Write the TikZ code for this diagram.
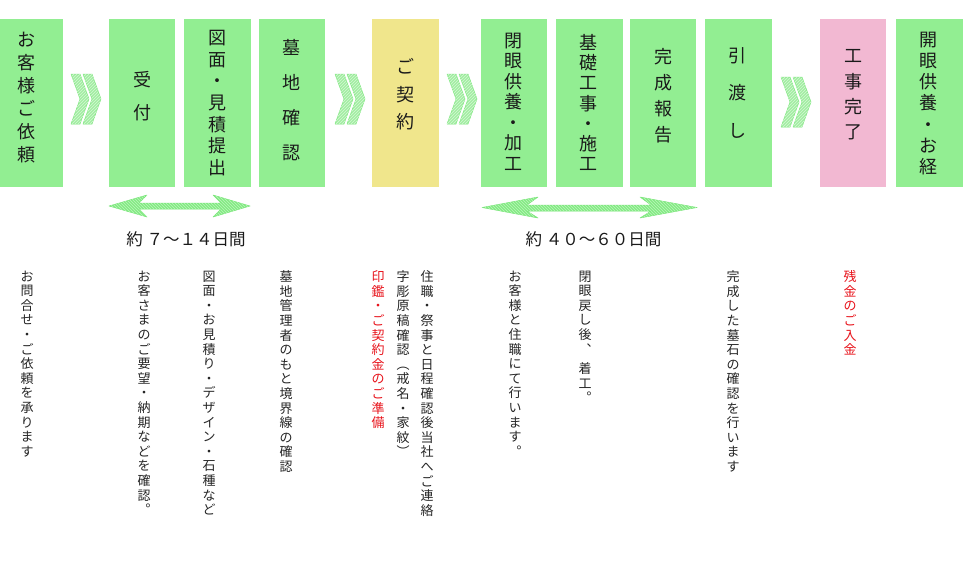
\documentclass[tikz,border=0pt]{standalone}
\usepackage{fontspec}
\setmainfont{Noto Sans CJK JP}
\usetikzlibrary{patterns}
\definecolor{bgreen}{HTML}{92EE92}
\definecolor{byellow}{HTML}{F0E68C}
\definecolor{bpink}{HTML}{F2B8D2}
\definecolor{chevc}{HTML}{A2EEA2}
\definecolor{arrc}{HTML}{84EB84}
\definecolor{edgec}{HTML}{78E678}
\definecolor{txtdark}{HTML}{1A1A1A}
\definecolor{txtgray}{HTML}{262626}
\definecolor{txtred}{HTML}{E8141C}
\tikzset{
  stepbox/.style={draw=none, inner sep=0pt, minimum height=168pt},
  boxtxt/.style={font=\fontsize{18}{#1}\selectfont, align=center, text=txtdark, inner sep=0pt},
  vtxt/.style={font=\fontsize{13}{14.6}\selectfont, align=center, text=txtgray, inner sep=0pt, anchor=north},
  redtxt/.style={text=txtred},
  lbl/.style={font=\fontsize{16.5}{18}\selectfont, text=txtdark, inner sep=0pt},
  chevfill/.style={fill=chevc, draw=edgec!80!chevc, line width=0.5pt, line join=round},
  chevhatch/.style={pattern=north east lines, pattern color=white!55!chevc},
  arrfill/.style={fill=arrc, draw=edgec, line width=0.5pt, line join=round},
  arrhatch/.style={pattern=north west lines, pattern color=white!45!arrc},
  chevpair/.pic={
    \foreach \dx in {0,12}{
      \path[chevfill] (\dx,0) -- (\dx+9,0) -- (\dx+18,25) -- (\dx+9,50) -- (\dx,50) -- (\dx+9,25) -- cycle;
      \path[chevhatch] (\dx,0) -- (\dx+9,0) -- (\dx+18,25) -- (\dx+9,50) -- (\dx,50) -- (\dx+9,25) -- cycle;
    }
  }
}
\begin{document}
\begin{tikzpicture}[x=1pt,y=-1pt]
\useasboundingbox[fill=white] (0,0) rectangle (979,562);

% boxes
\node[stepbox, fill=bgreen, minimum width=63pt] (b1) at (31.5,103) {};
\node[stepbox, fill=bgreen, minimum width=66pt] (b2) at (142,103) {};
\node[stepbox, fill=bgreen, minimum width=67pt] (b3) at (217.5,103) {};
\node[stepbox, fill=bgreen, minimum width=66pt] (b4) at (292,103) {};
\node[stepbox, fill=byellow, minimum width=67pt] (b5) at (405.5,103) {};
\node[stepbox, fill=bgreen, minimum width=66pt] (b6) at (514,103) {};
\node[stepbox, fill=bgreen, minimum width=67pt] (b7) at (589.5,103) {};
\node[stepbox, fill=bgreen, minimum width=66pt] (b8) at (663,103) {};
\node[stepbox, fill=bgreen, minimum width=67pt] (b9) at (738.5,103) {};
\node[stepbox, fill=bpink, minimum width=66pt] (b10) at (853,103) {};
\node[stepbox, fill=bgreen, minimum width=67pt] (b11) at (929.5,103) {};

% box texts
\node[boxtxt=23] (t1) at (26,97.5) {お\\客\\様\\ご\\依\\頼};
\node[boxtxt=33] (t2) at (142,96.5) {受\\付};
\node[boxtxt=21.7] (t3) at (217,103) {図\\面\\・\\見\\積\\提\\出};
\node[boxtxt=35] (t4) at (291,100.5) {墓\\地\\確\\認};
\node[boxtxt=27.5] (t5) at (405,94.5) {ご\\契\\約};
\node[boxtxt=20.5] (t6) at (513.5,101.5) {閉\\眼\\供\\養\\・\\加\\工};
\node[boxtxt=20.2] (t7) at (588.5,102.5) {基\\礎\\工\\事\\・\\施\\工};
\node[boxtxt=26] (t8) at (663,96) {完\\成\\報\\告};
\node[boxtxt=37.5] (t9) at (737.5,92.5) {引\\渡\\し};
\node[boxtxt=25.3] (t10) at (853,95) {工\\事\\完\\了};
\node[boxtxt=21.2] (t11) at (928.5,103.5) {開\\眼\\供\\養\\・\\お\\経};

% chevrons
\pic at (71,74) {chevpair};
\pic at (335,74) {chevpair};
\pic at (447,74) {chevpair};
\pic at (781,77) {chevpair};

% double arrows
\path[arrfill] (109,206) -- (147,195) -- (139,203) -- (221,203) -- (213,195) -- (250,206) -- (213,217) -- (221,209) -- (139,209) -- (147,217) -- cycle;
\path[arrhatch] (109,206) -- (147,195) -- (139,203) -- (221,203) -- (213,195) -- (250,206) -- (213,217) -- (221,209) -- (139,209) -- (147,217) -- cycle;
\path[arrfill] (482,207.5) -- (538,197) -- (527,205) -- (651,205) -- (640,197) -- (697,207.5) -- (640,218) -- (651,211) -- (527,211) -- (538,218) -- cycle;
\path[arrhatch] (482,207.5) -- (538,197) -- (527,205) -- (651,205) -- (640,197) -- (697,207.5) -- (640,218) -- (651,211) -- (527,211) -- (538,218) -- cycle;

% period labels
\node[lbl] (l1) at (186,239) {約 ７～１４日間};
\node[lbl] (l2) at (593.5,239) {約 ４０～６０日間};

% lower vertical texts
\node[vtxt] (c1) at (27,270.5) {お\\問\\合\\せ\\・\\ご\\依\\頼\\を\\承\\り\\ま\\す};
\node[vtxt] (c2) at (144,270.5) {お\\客\\さ\\ま\\の\\ご\\要\\望\\・\\納\\期\\な\\ど\\を\\確\\認\\︒};
\node[vtxt] (c3) at (209,270.5) {図\\面\\・\\お\\見\\積\\り\\・\\デ\\ザ\\イ\\ン\\・\\石\\種\\な\\ど};
\node[vtxt] (c4) at (286,270.5) {墓\\地\\管\\理\\者\\の\\も\\と\\境\\界\\線\\の\\確\\認};
\node[vtxt, redtxt] (c5) at (378,270.5) {印\\鑑\\・\\ご\\契\\約\\金\\の\\ご\\準\\備};
\node[vtxt] (c6) at (403,270.5) {字\\彫\\原\\稿\\確\\認\\︵\\戒\\名\\・\\家\\紋\\︶};
\node[vtxt] (c7) at (427,270.5) {住\\職\\・\\祭\\事\\と\\日\\程\\確\\認\\後\\当\\社\\へ\\ご\\連\\絡};
\node[vtxt] (c8) at (515,270.5) {お\\客\\様\\と\\住\\職\\に\\て\\行\\い\\ま\\す\\︒};
\node[vtxt] (c9) at (585,270.5) {閉\\眼\\戻\\し\\後\\︑\\[5pt]着\\工\\︒};
\node[vtxt] (c10) at (733,270.5) {完\\成\\し\\た\\墓\\石\\の\\確\\認\\を\\行\\い\\ま\\す};
\node[vtxt, redtxt] (c11) at (850,270.5) {残\\金\\の\\ご\\入\\金};
\end{tikzpicture}
\end{document}
